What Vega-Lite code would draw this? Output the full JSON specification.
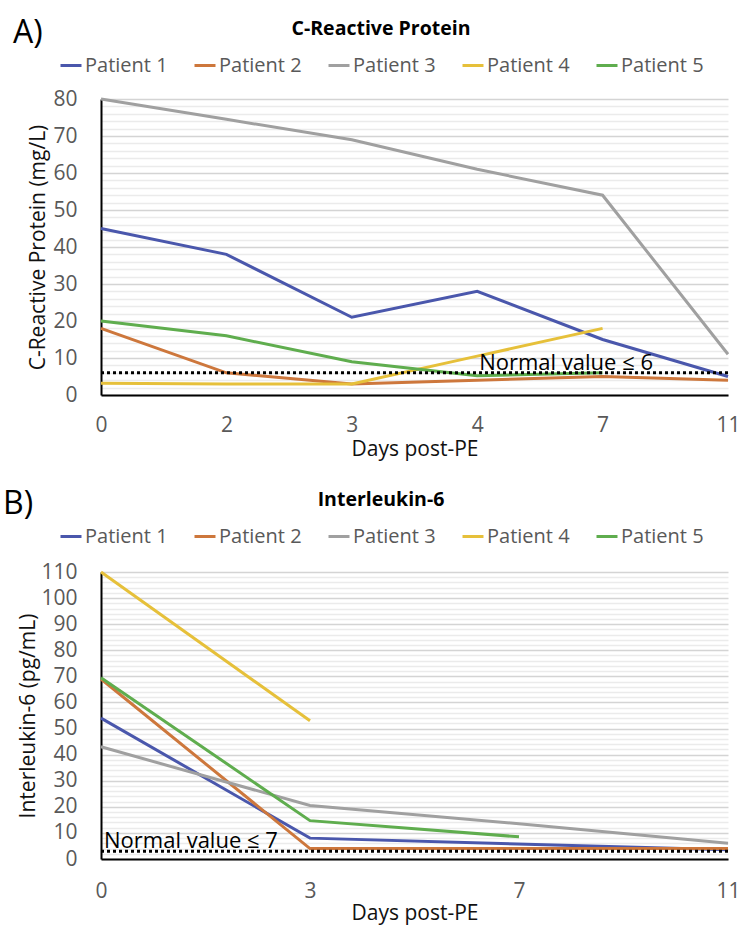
{
  "$schema": "https://vega.github.io/schema/vega-lite/v6.json",
  "background": "white",
  "padding": {"left": 2, "top": 17, "right": 22, "bottom": 4},
  "spacing": 29,
  "config": {
    "font": "Open Sans",
    "view": {"stroke": null},
    "axis": {"labelFont": "Open Sans", "titleFont": "Open Sans", "labelColor": "#595959", "labelFontSize": 21, "titleFontSize": 21, "titleFontWeight": "normal", "titleColor": "#111111", "ticks": false, "domainColor": "#000000", "domainWidth": 2, "labelOverlap": false},
    "legend": {"labelFont": "Open Sans", "titleFont": "Open Sans"},
    "title": {"font": "Open Sans"}
  },
  "datasets": {
    "crp": [
      {"day": 0, "patient": "Patient 1", "value": 45},
      {"day": 2, "patient": "Patient 1", "value": 38},
      {"day": 3, "patient": "Patient 1", "value": 21},
      {"day": 4, "patient": "Patient 1", "value": 28},
      {"day": 7, "patient": "Patient 1", "value": 15},
      {"day": 11, "patient": "Patient 1", "value": 5},
      {"day": 0, "patient": "Patient 2", "value": 18},
      {"day": 2, "patient": "Patient 2", "value": 6},
      {"day": 3, "patient": "Patient 2", "value": 3},
      {"day": 4, "patient": "Patient 2", "value": 4},
      {"day": 7, "patient": "Patient 2", "value": 5},
      {"day": 11, "patient": "Patient 2", "value": 4},
      {"day": 0, "patient": "Patient 3", "value": 80},
      {"day": 2, "patient": "Patient 3", "value": 74.5},
      {"day": 3, "patient": "Patient 3", "value": 69},
      {"day": 4, "patient": "Patient 3", "value": 61},
      {"day": 7, "patient": "Patient 3", "value": 54},
      {"day": 11, "patient": "Patient 3", "value": 11},
      {"day": 0, "patient": "Patient 4", "value": 3.2},
      {"day": 2, "patient": "Patient 4", "value": 3},
      {"day": 3, "patient": "Patient 4", "value": 3},
      {"day": 4, "patient": "Patient 4", "value": 10.5},
      {"day": 7, "patient": "Patient 4", "value": 18},
      {"day": 0, "patient": "Patient 5", "value": 20},
      {"day": 2, "patient": "Patient 5", "value": 16},
      {"day": 3, "patient": "Patient 5", "value": 9},
      {"day": 4, "patient": "Patient 5", "value": 5.2},
      {"day": 7, "patient": "Patient 5", "value": 6}
    ],
    "il6": [
      {"day": 0, "patient": "Patient 1", "value": 54},
      {"day": 3, "patient": "Patient 1", "value": 8},
      {"day": 11, "patient": "Patient 1", "value": 3.5},
      {"day": 0, "patient": "Patient 2", "value": 69},
      {"day": 3, "patient": "Patient 2", "value": 4},
      {"day": 11, "patient": "Patient 2", "value": 4},
      {"day": 0, "patient": "Patient 3", "value": 43},
      {"day": 3, "patient": "Patient 3", "value": 20.5},
      {"day": 7, "patient": "Patient 3", "value": 13.5},
      {"day": 11, "patient": "Patient 3", "value": 6},
      {"day": 0, "patient": "Patient 4", "value": 110},
      {"day": 3, "patient": "Patient 4", "value": 53},
      {"day": 0, "patient": "Patient 5", "value": 69.5},
      {"day": 3, "patient": "Patient 5", "value": 14.7},
      {"day": 7, "patient": "Patient 5", "value": 8.5}
    ]
  },
  "resolve": {"scale": {"color": "independent", "x": "independent", "y": "independent"}},
  "vconcat": [
    {
      "width": 627,
      "height": 296,
      "title": {"text": "A)", "anchor": "start", "frame": "bounds", "fontSize": 32, "fontWeight": "normal", "color": "#000000", "dx": -15, "offset": -30},
      "layer": [
        {
          "data": {"name": "crp"},
          "mark": {"type": "line", "strokeWidth": 3},
          "encoding": {
            "x": {"field": "day", "type": "ordinal", "scale": {"type": "point", "padding": 0, "domain": [0, 2, 3, 4, 7, 11]}, "axis": {"labelAngle": 0, "labelPadding": 19, "title": "Days post-PE", "titlePadding": 3, "domain": true}},
            "y": {"field": "value", "type": "quantitative", "scale": {"domain": [0, 80], "nice": false}, "axis": {"tickCount": 200, "format": "d", "values": [0,2,4,6,8,10,12,14,16,18,20,22,24,26,28,30,32,34,36,38,40,42,44,46,48,50,52,54,56,58,60,62,64,66,68,70,72,74,76,78,80], "labelExpr": "datum.value % 10 === 0 ? datum.label : ''", "gridColor": {"condition": {"test": "datum.value % 10 === 0", "value": "#d4d4d4"}, "value": "#ebebeb"}, "gridWidth": 1.3, "labelPadding": 24, "title": "C-Reactive Protein (mg/L)", "titlePadding": 4}},
            "color": {"field": "patient", "type": "nominal", "scale": {"domain": ["Patient 1", "Patient 2", "Patient 3", "Patient 4", "Patient 5"], "range": ["#4A57AC", "#CD773C", "#A0A0A0", "#E6C03A", "#5FAD4E"]},
              "legend": {"title": "C-Reactive Protein", "orient": "none", "direction": "horizontal", "legendX": -42, "legendY": -79, "titleAnchor": "middle", "titleFontSize": 19.5, "titleFontWeight": "bold", "titleColor": "#000000", "titlePadding": 14, "labelFontSize": 20, "labelColor": "#595959", "symbolType": "stroke", "symbolSize": 441, "symbolStrokeWidth": 3, "labelOffset": 2, "columnPadding": 20}}
          }
        },
        {
          "data": {"values": [{"v": 6}]},
          "mark": {"type": "rule", "strokeDash": [3, 3], "strokeWidth": 3, "color": "#000000"},
          "encoding": {"y": {"field": "v", "type": "quantitative"}}
        },
        {
          "data": {"values": [{"d": 4, "v": 6, "t": "Normal value ≤ 6"}]},
          "mark": {"type": "text", "align": "left", "baseline": "bottom", "dx": 2, "dy": 2, "fontSize": 22, "color": "#000000"},
          "encoding": {"x": {"field": "d", "type": "ordinal"}, "y": {"field": "v", "type": "quantitative"}, "text": {"field": "t"}}
        }
      ]
    },
    {
      "width": 627,
      "height": 287,
      "title": {"text": "B)", "anchor": "start", "frame": "bounds", "fontSize": 32, "fontWeight": "normal", "color": "#000000", "dx": -15, "offset": -30},
      "layer": [
        {
          "data": {"name": "il6"},
          "mark": {"type": "line", "strokeWidth": 3},
          "encoding": {
            "x": {"field": "day", "type": "ordinal", "scale": {"type": "point", "padding": 0, "domain": [0, 3, 7, 11]}, "axis": {"labelAngle": 0, "labelPadding": 21, "title": "Days post-PE", "titlePadding": 1}},
            "y": {"field": "value", "type": "quantitative", "scale": {"domain": [0, 110], "nice": false}, "axis": {"tickCount": 200, "format": "d", "values": [0,2,4,6,8,10,12,14,16,18,20,22,24,26,28,30,32,34,36,38,40,42,44,46,48,50,52,54,56,58,60,62,64,66,68,70,72,74,76,78,80,82,84,86,88,90,92,94,96,98,100,102,104,106,108,110], "labelExpr": "datum.value % 10 === 0 ? datum.label : ''", "gridColor": {"condition": {"test": "datum.value % 10 === 0", "value": "#d4d4d4"}, "value": "#ebebeb"}, "gridWidth": 1.3, "labelPadding": 24, "title": "Interleukin-6 (pg/mL)", "titlePadding": 2}},
            "color": {"field": "patient", "type": "nominal", "scale": {"domain": ["Patient 1", "Patient 2", "Patient 3", "Patient 4", "Patient 5"], "range": ["#4A57AC", "#CD773C", "#A0A0A0", "#E6C03A", "#5FAD4E"]},
              "legend": {"title": "Interleukin-6", "orient": "none", "direction": "horizontal", "legendX": -42, "legendY": -81, "titleAnchor": "middle", "titleFontSize": 19.5, "titleFontWeight": "bold", "titleColor": "#000000", "titlePadding": 14, "labelFontSize": 20, "labelColor": "#595959", "symbolType": "stroke", "symbolSize": 441, "symbolStrokeWidth": 3, "labelOffset": 2, "columnPadding": 20}}
          }
        },
        {
          "data": {"values": [{"v": 3}]},
          "mark": {"type": "rule", "strokeDash": [3, 3], "strokeWidth": 3, "color": "#000000"},
          "encoding": {"y": {"field": "v", "type": "quantitative"}}
        },
        {
          "data": {"values": [{"d": 0, "v": 3, "t": "Normal value ≤ 7"}]},
          "mark": {"type": "text", "align": "left", "baseline": "bottom", "dx": 3, "dy": 2, "fontSize": 22, "color": "#000000"},
          "encoding": {"x": {"field": "d", "type": "ordinal"}, "y": {"field": "v", "type": "quantitative"}, "text": {"field": "t"}}
        }
      ]
    }
  ]
}
